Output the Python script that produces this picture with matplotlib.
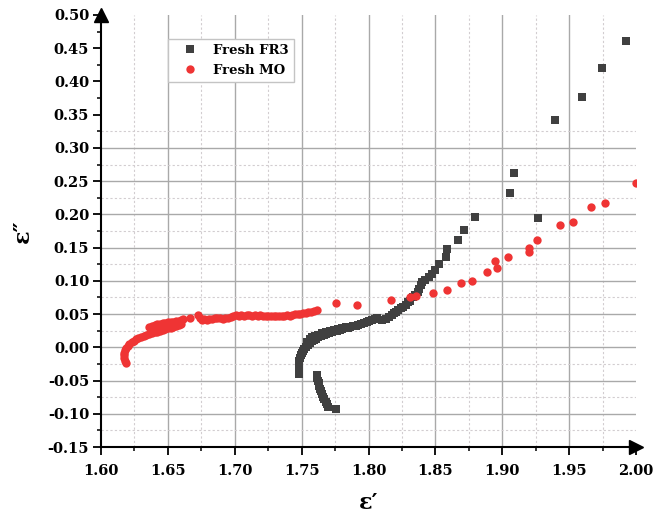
import numpy as np
import matplotlib
matplotlib.use("Agg")
import matplotlib.pyplot as plt
from matplotlib.ticker import MultipleLocator, FormatStrFormatter

# ---- Fresh FR3 (epsilon', epsilon'') ----
fr3_x = [
    # lower hook
    1.7757, 1.7700, 1.7690, 1.7680, 1.7670, 1.7662, 1.7655, 1.7648, 1.7640,
    1.7633, 1.7627, 1.7620, 1.7615, 1.7612,
    # main arc
    1.7480, 1.7478, 1.7477, 1.7477, 1.7478, 1.7481, 1.7486, 1.7492, 1.7500,
    1.7510, 1.7520, 1.7532, 1.7545, 1.7560, 1.7575, 1.7590, 1.7608, 1.7625,
    1.7645, 1.7665, 1.7685, 1.7705, 1.7725, 1.7745, 1.7765, 1.7785, 1.7805,
    1.7825, 1.7845, 1.7865, 1.7885, 1.7905, 1.7925, 1.7945, 1.7965, 1.7985,
    1.8005, 1.8025, 1.8045, 1.8065, 1.8098, 1.8130, 1.8156, 1.8173, 1.8190,
    1.8205, 1.8223, 1.8240, 1.8260, 1.8278, 1.8298, 1.8310, 1.8335, 1.8350,
    1.8372, 1.8380, 1.8393, 1.8398, 1.8425, 1.8455, 1.8475, 1.8497, 1.8529,
    1.8579, 1.8590, 1.8666, 1.8717, 1.8794, 1.9267, 1.9058, 1.9088, 1.9394,
    1.9599, 1.9748, 1.9925,
    # inner row of the arc
    1.7540, 1.7560, 1.7580, 1.7600, 1.7625, 1.7650, 1.7680, 1.7710, 1.7740,
    1.7770, 1.7800, 1.7830,
]
fr3_y = [
    -0.0935, -0.0900, -0.0860, -0.0820, -0.0780, -0.0740, -0.0700, -0.0660, -0.0620,
    -0.0580, -0.0540, -0.0500, -0.0460, -0.0420,
    -0.0400, -0.0360, -0.0320, -0.0280, -0.0240, -0.0200, -0.0160, -0.0120, -0.0085,
    -0.0050, -0.0020, 0.0010, 0.0038, 0.0065, 0.0090, 0.0110, 0.0130, 0.0150,
    0.0168, 0.0185, 0.0200, 0.0215, 0.0228, 0.0240, 0.0252, 0.0263, 0.0275,
    0.0285, 0.0296, 0.0306, 0.0317, 0.0328, 0.0340, 0.0352, 0.0365, 0.0378,
    0.0392, 0.0405, 0.0420, 0.0440, 0.0410, 0.0430, 0.0460, 0.0486, 0.0510,
    0.0535, 0.0561, 0.0585, 0.0610, 0.0636, 0.0686, 0.0700, 0.0762, 0.0790,
    0.0837, 0.0880, 0.0937, 0.0987, 0.1020, 0.1058, 0.1105, 0.1158, 0.1254,
    0.1354, 0.1480, 0.1614, 0.1760, 0.1966, 0.1950, 0.2317, 0.2627, 0.3420,
    0.3766, 0.4207, 0.4604,
    0.0080, 0.0120, 0.0150, 0.0170, 0.0190, 0.0210, 0.0230, 0.0250, 0.0265,
    0.0280, 0.0295, 0.0310,
]

# ---- Fresh MO (epsilon', epsilon'') ----
mo_x = [
    1.6187, 1.6180, 1.6175, 1.6172, 1.6172, 1.6176, 1.6185, 1.6198, 1.6212,
    1.6228, 1.6245, 1.6262, 1.6280, 1.6300, 1.6320, 1.6340, 1.6360, 1.6380,
    1.6400, 1.6420, 1.6440, 1.6460, 1.6480, 1.6500, 1.6520, 1.6540, 1.6560,
    1.6580, 1.6600,
    1.6360, 1.6380, 1.6400, 1.6420, 1.6440, 1.6460, 1.6480, 1.6500, 1.6520,
    1.6540, 1.6560, 1.6580, 1.6600, 1.6615,
    1.6665, 1.6728, 1.6740, 1.6752, 1.6770, 1.6790, 1.6810, 1.6830, 1.6850,
    1.6870, 1.6890, 1.6910, 1.6930, 1.6950, 1.6970, 1.6990, 1.7010, 1.7030,
    1.7050, 1.7070, 1.7090, 1.7110, 1.7130, 1.7150, 1.7170, 1.7190, 1.7210,
    1.7230, 1.7250, 1.7270, 1.7290, 1.7310, 1.7330, 1.7350, 1.7370, 1.7390,
    1.7410, 1.7430, 1.7450, 1.7470, 1.7490, 1.7510, 1.7530, 1.7550, 1.7570,
    1.7590, 1.7613,
    1.7755, 1.7912, 1.8166, 1.8310, 1.8355, 1.8482, 1.8585, 1.8689, 1.8771,
    1.8884, 1.8946, 1.8959, 1.9045, 1.9202, 1.9202, 1.9262, 1.9432, 1.9529,
    1.9660, 1.9770, 2.0000,
]
mo_y = [
    -0.0232, -0.0200, -0.0160, -0.0120, -0.0080, -0.0045, -0.0010, 0.0020, 0.0050,
    0.0075, 0.0098, 0.0118, 0.0135, 0.0152, 0.0168, 0.0182, 0.0196, 0.0210,
    0.0223, 0.0236, 0.0250, 0.0262, 0.0275, 0.0287, 0.0298, 0.0310, 0.0322,
    0.0334, 0.0345,
    0.0300, 0.0320, 0.0335, 0.0345, 0.0355, 0.0362, 0.0368, 0.0375, 0.0380,
    0.0385, 0.0392, 0.0400, 0.0410, 0.0420,
    0.0445, 0.0486, 0.0440, 0.0410, 0.0420, 0.0415, 0.0430, 0.0425, 0.0440,
    0.0435, 0.0440, 0.0430, 0.0445, 0.0440, 0.0460, 0.0475, 0.0480, 0.0475,
    0.0482, 0.0478, 0.0485, 0.0480, 0.0478, 0.0482, 0.0475, 0.0480, 0.0472,
    0.0470, 0.0468, 0.0470, 0.0475, 0.0472, 0.0478, 0.0475, 0.0470, 0.0480,
    0.0478, 0.0485, 0.0495, 0.0500, 0.0505, 0.0510, 0.0520, 0.0525, 0.0535,
    0.0545, 0.0561,
    0.0671, 0.0637, 0.0712, 0.0752, 0.0777, 0.0812, 0.0862, 0.0963, 0.0998,
    0.1128, 0.1303, 0.1198, 0.1359, 0.1430, 0.1500, 0.1614, 0.1840, 0.1880,
    0.2116, 0.2167, 0.2477,
]

series_labels = ["Fresh FR3", "Fresh MO"]
x_label = "\u03b5\u2032"
y_label = "\u03b5\u2033"

FONT = ["DejaVu Serif", "DejaVu Sans"]
plt.rcParams["font.family"] = FONT
plt.rcParams["font.weight"] = "bold"

fig = plt.figure(figsize=(6.56, 5.19), dpi=100)
ax = fig.add_axes([0.154, 0.1387, 0.8155, 0.8324])

XMIN, XMAX = 1.60, 2.00
YMIN, YMAX = -0.15, 0.50
ax.set_xlim(XMIN, XMAX)
ax.set_ylim(YMIN, YMAX)

# grid: vertical lines run full height, horizontal lines stop at 0.30 / 0.325
maj_c, min_c = "#a9a9a9", "#d2cdd0"
for v in np.arange(1.65, 1.96, 0.05):
    ax.axvline(v, color=maj_c, lw=1.0, zorder=0)
for v in np.arange(1.625, 1.99, 0.05):
    ax.axvline(v, color=min_c, lw=0.8, ls=(0, (2, 2)), zorder=0)
for h in np.arange(-0.10, 0.301, 0.05):
    ax.axhline(h, color=maj_c, lw=1.0, zorder=0)
for h in np.arange(-0.125, 0.326, 0.05):
    ax.axhline(h, color=min_c, lw=0.8, ls=(0, (2, 2)), zorder=0)

ax.plot(fr3_x, fr3_y, ls="none", marker="s", ms=5.6, mew=0,
        color="#404040", label=series_labels[0], zorder=3)
ax.plot(mo_x, mo_y, ls="none", marker="o", ms=6.0, mew=0,
        color="#ef3434", label=series_labels[1], zorder=4)

# axes: left and bottom spines with arrow heads
for s in ("top", "right"):
    ax.spines[s].set_visible(False)
for s in ("left", "bottom"):
    ax.spines[s].set_linewidth(1.5)
    ax.spines[s].set_color("black")
ax.plot([0], [1], marker="^", ms=10, color="black", transform=ax.transAxes,
        clip_on=False, zorder=6)
ax.plot([1], [0], marker=">", ms=10, color="black", transform=ax.transAxes,
        clip_on=False, zorder=6)

ax.xaxis.set_major_locator(MultipleLocator(0.05))
ax.xaxis.set_minor_locator(MultipleLocator(0.025))
ax.yaxis.set_major_locator(MultipleLocator(0.05))
ax.yaxis.set_minor_locator(MultipleLocator(0.025))
ax.xaxis.set_major_formatter(FormatStrFormatter("%.2f"))
ax.yaxis.set_major_formatter(FormatStrFormatter("%.2f"))
ax.tick_params(which="major", direction="out", length=5.5, width=1.3,
               labelsize=10.5, pad=3)
ax.tick_params(which="minor", direction="out", length=3, width=1.1)
ax.tick_params(axis="x", which="major", pad=7)
for t in ax.get_xticklabels() + ax.get_yticklabels():
    t.set_fontweight("bold")

ax.set_xlabel(x_label, fontsize=16, fontweight="bold")
ax.set_ylabel(y_label, fontsize=16, fontweight="bold")
ax.xaxis.set_label_coords(0.5, -0.105)
ax.yaxis.set_label_coords(-0.125, 0.5)

leg = ax.legend(loc="upper left", bbox_to_anchor=(0.125, 0.944),
                frameon=True, fancybox=False, framealpha=1,
                edgecolor="#c4c4c4", facecolor="white",
                prop={"family": FONT, "weight": "bold", "size": 9.5},
                handletextpad=0.4, borderpad=0.35, labelspacing=0.55,
                handlelength=2.7, borderaxespad=0)
leg.get_frame().set_linewidth(1.0)
leg.set_zorder(5)

fig.savefig("out.png", dpi=100, facecolor="white")
